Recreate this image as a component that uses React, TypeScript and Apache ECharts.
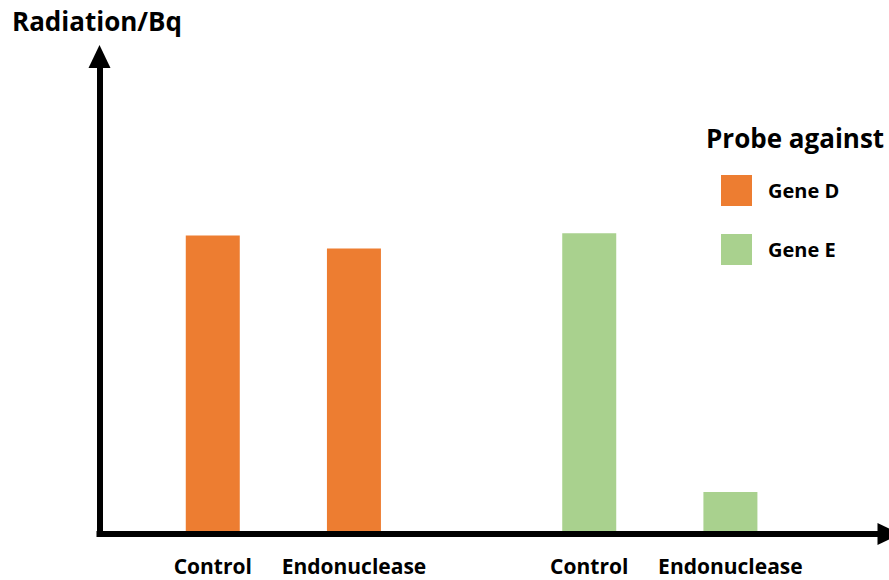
import React, { useEffect, useRef } from "react";
import * as echarts from "echarts";

const categories = ["Control", "Endonuclease", "Control", "Endonuclease"];
const positions = [0, 3, 8, 11];
const geneDValues = [62.5, 59.8];
const geneEValues = [63, 8.8];
const seriesNames = ["Gene D", "Gene E"];
const yTitle = "Radiation/Bq";
const legendTitle = "Probe against";

const FONT = "'Open Sans', 'Noto Sans', sans-serif";

export default function App() {
  const ref = useRef<HTMLDivElement>(null);
  useEffect(() => {
    if (!ref.current) return;
    const chart = echarts.init(ref.current, undefined, { renderer: "svg" });
    const geneD = geneDValues.map((v, i) => [positions[i], v]);
    const geneE = geneEValues.map((v, i) => [positions[i + 2], v]);
    chart.setOption({
      animation: false,
      backgroundColor: "#ffffff",
      title: [
        {
          text: yTitle,
          left: 12,
          top: 8,
          padding: 0,
          textStyle: { fontFamily: FONT, fontWeight: "bold", fontSize: 26, color: "#000" },
        },
        {
          text: legendTitle,
          left: 706,
          top: 125,
          padding: 0,
          textStyle: { fontFamily: FONT, fontWeight: "bold", fontSize: 26, color: "#000" },
        },
      ],
      legend: {
        data: seriesNames,
        orient: "vertical",
        left: 721,
        top: 175,
        padding: 0,
        itemWidth: 31,
        itemHeight: 31,
        itemGap: 28,
        icon: "rect",
        selectedMode: false,
        textStyle: {
          fontFamily: FONT,
          fontWeight: "bold",
          fontSize: 20,
          color: "#000",
          padding: [0, 0, 0, 11],
        },
      },
      grid: { left: 99.5, right: -0.5, top: 56.5, bottom: 46 },
      xAxis: {
        type: "value",
        min: -2.407,
        max: 14.37,
        z: 10,
        axisLine: {
          show: true,
          onZero: false,
          symbol: ["none", "triangle"],
          symbolSize: [22, 23],
          lineStyle: { color: "#000", width: 6, cap: "square" },
        },
        axisTick: { show: false },
        splitLine: { show: false },
        axisLabel: {
          customValues: positions,
          formatter: (v: number) => {
            const i = positions.indexOf(v);
            return i >= 0 ? categories[i] : "";
          },
          fontFamily: FONT,
          fontWeight: "bold",
          fontSize: 21,
          color: "#000",
          margin: 21,
        },
      },
      yAxis: {
        type: "value",
        min: 0,
        max: 100,
        z: 10,
        axisLine: {
          show: true,
          onZero: false,
          symbol: ["none", "triangle"],
          symbolSize: [22, 23],
          lineStyle: { color: "#000", width: 6, cap: "square" },
        },
        axisTick: { show: false },
        splitLine: { show: false },
        axisLabel: { show: false },
      },
      series: [
        {
          name: seriesNames[0],
          type: "bar",
          data: geneD,
          barWidth: 54,
          barGap: "-100%",
          itemStyle: { color: "#ED7D31" },
        },
        {
          name: seriesNames[1],
          type: "bar",
          data: geneE,
          barWidth: 54,
          barGap: "-100%",
          itemStyle: { color: "#A9D18E" },
        },
      ],
    });
    return () => chart.dispose();
  }, []);
  return (
    <div
      ref={ref}
      style={{ position: "absolute", left: 0, top: 0, width: 889, height: 580 }}
    />
  );
}
